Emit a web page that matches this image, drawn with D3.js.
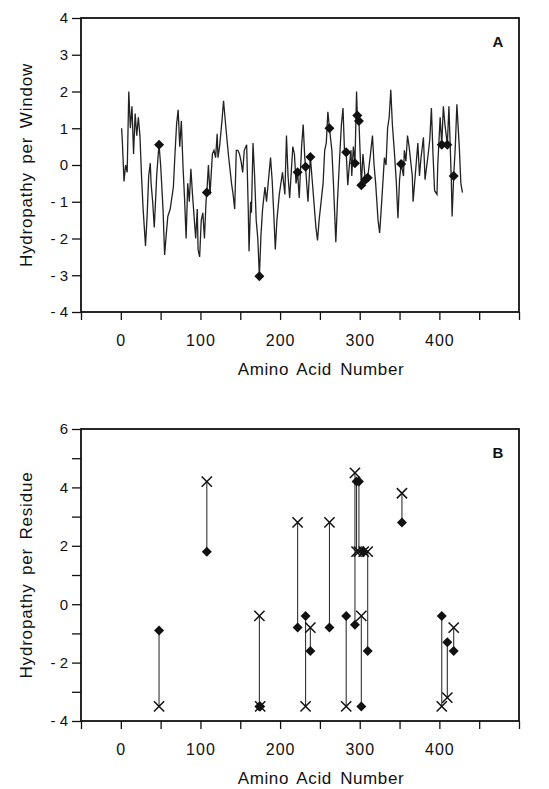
<!DOCTYPE html>
<html>
<head>
<meta charset="utf-8">
<script src="https://cdn.jsdelivr.net/npm/d3@7"></script>
<style>
  body { margin: 0; background: #fff; }
  svg { font-family: "Liberation Sans", Arial, Helvetica, sans-serif; }
</style>
</head>
<body>
<div id="app"></div>
<script>
// Panel A: hydropathy per window (residue number, window average)
const profileResidue = [1,2,4,6,8,10,12,14,16,18,20,22,24,26,28,31,33,35,37,38,40,42,44,45,47,48,50,53,55,57,59,62,66,68,70,72,74,76,78,80,82,84,86,88,90,94,96,97,99,101,103,105,107,108,110,112,115,117,119,121,122,124,127,129,132,135,137,139,141,143,145,147,149,151,153,155,158,160,161,163,164,166,168,170,172,174,176,178,181,183,185,188,190,192,194,196,199,201,203,206,208,210,212,214,216,218,220,222,224,227,229,231,232,235,238,241,245,247,249,252,254,256,258,260,262,265,267,270,272,275,277,279,281,283,285,287,289,290,292,294,296,297,299,302,304,307,310,313,316,318,320,323,325,327,329,331,333,335,337,339,341,344,346,348,350,352,355,356,358,360,362,366,367,370,373,375,377,380,382,386,388,390,392,394,397,398,401,403,405,407,410,412,415,416,418,420,422,425,427,429];
const profileValue = [1.0,0.6,-0.45,0.0,-0.2,2.0,1.0,1.6,0.3,1.4,0.8,1.3,0.8,-0.3,-1.2,-2.2,-1.4,-0.3,0.05,-0.5,-1.0,-1.7,-0.8,-0.3,0.3,0.55,0.0,-1.2,-2.45,-1.9,-1.4,-1.2,-0.6,0.3,1.1,1.5,0.5,1.2,0.0,-0.9,-2.0,-0.5,-1.0,-0.1,-0.8,-2.0,-1.2,-2.3,-2.5,-1.5,-1.3,-2.0,-1.0,-0.75,0.0,-0.8,0.3,0.4,0.2,0.85,0.2,0.5,1.2,1.75,1.0,0.3,-0.1,-0.5,-0.8,-1.2,0.4,0.4,0.3,0.1,-0.2,0.4,0.55,-1.2,-2.35,-1.0,-1.3,0.6,-0.3,-1.5,-2.0,-3.03,-1.9,-1.2,-0.6,-1.0,-0.5,0.2,-0.4,-1.3,-2.3,-1.5,-0.8,-0.5,-0.2,-0.8,0.8,-0.3,-0.9,-0.2,0.5,0.3,-0.5,-0.2,-0.9,0.5,1.1,0.2,-0.05,-1.0,0.22,-0.6,-1.7,-2.05,-1.5,-0.9,-0.5,0.4,0.6,1.45,1.0,0.4,-0.5,-2.1,-1.0,0.3,1.1,1.55,0.3,0.35,-0.55,0.0,0.4,-0.3,0.5,0.05,2.0,1.35,1.2,-0.55,0.3,-0.4,-0.35,0.2,0.8,0.0,-0.5,-1.5,-1.85,-1.2,-0.5,0.2,0.0,1.0,1.3,2.05,1.1,0.2,-0.5,-1.45,-0.4,0.03,-0.3,0.4,0.1,0.8,0.5,-0.3,-1.0,-0.2,0.6,-0.3,0.2,0.75,-0.4,0.3,0.7,1.55,0.3,-0.7,-0.8,0.0,1.3,0.55,1.6,1.1,0.55,1.6,-0.4,-1.4,-0.3,0.5,1.65,0.5,-0.5,-0.75];

// Panel A: marked residues on the profile
const markResidue = [48,108,174,222,232,238,262,283,294,297,299,302,307,310,352,403,410,418];
const markWindow = [0.55,-0.75,-3.03,-0.2,-0.05,0.22,1.0,0.35,0.05,1.35,1.2,-0.55,-0.4,-0.35,0.03,0.55,0.55,-0.3];

// Panel B: per-residue hydropathy, diamond (original) and cross (substituted)
const pairResidue = [48,108,174,175,222,232,238,262,283,294,296,299,302,305,310,353,403,410,418];
const pairDiamond = [-0.9,1.8,-3.5,-3.5,-0.8,-0.4,-1.6,-0.8,-0.4,-0.7,4.2,4.2,-3.5,1.8,-1.6,2.8,-0.4,-1.3,-1.6];
const pairCross = [-3.5,4.2,-0.4,-3.5,2.8,-3.5,-0.8,2.8,-3.5,4.5,1.8,1.8,-0.4,1.8,1.8,3.8,-3.5,-3.2,-0.8];

// Axis ticks
const xTicks = [-50,0,50,100,150,200,250,300,350,400,450,500];
const xTickLabels = [0,100,200,300,400];
const yTicksA = [-4,-3,-2,-1,0,1,2,3,4];
const yTicksB = [-4,-3,-2,-1,0,1,2,3,4,5,6];
const yTickLabelsB = [-4,-2,0,2,4,6];

const width = 549;
const height = 789;
const left = 81;
const right = 519;

const svg = d3.select("#app").append("svg")
  .attr("width", width)
  .attr("height", height);

const x = d3.scaleLinear().domain([-50, 500]).range([left, right]);
const yA = d3.scaleLinear().domain([-4, 4]).range([312, 18]);
const yB = d3.scaleLinear().domain([-4, 6]).range([721, 429]);

const fmt = d => d < 0 ? "- " + Math.abs(d) : String(d);

const diamond = d3.symbol(d3.symbolSquare, 50);
const cross = d3.symbol(d3.symbolTimes, 70);

function drawFrame(y, yTicks, yLabels, title, tag) {
  const top = y.range()[1];
  const bottom = y.range()[0];

  // x axis
  const gx = svg.append("g")
    .attr("transform", `translate(0, ${bottom})`)
    .call(d3.axisBottom(x).tickValues(xTicks).tickSize(8).tickPadding(15)
      .tickFormat(d => xTickLabels.includes(d) ? d : ""));
  gx.select(".domain").remove();
  gx.selectAll("line").attr("stroke", "#111").attr("stroke-width", 1.3);
  gx.selectAll("text").attr("font-size", 16).attr("letter-spacing", 1).attr("fill", "#111");

  // y axis
  const gy = svg.append("g")
    .attr("transform", `translate(${left}, 0)`)
    .call(d3.axisLeft(y).tickValues(yTicks).tickSize(9).tickPadding(4)
      .tickFormat(d => yLabels.includes(d) ? fmt(d) : ""));
  gy.select(".domain").remove();
  gy.selectAll("line").attr("stroke", "#111").attr("stroke-width", 1.3);
  gy.selectAll("text").attr("font-size", 15).attr("fill", "#111");

  // box
  svg.append("rect")
    .attr("x", left).attr("y", top)
    .attr("width", right - left).attr("height", bottom - top)
    .attr("fill", "none").attr("stroke", "#111").attr("stroke-width", 1.8);

  // axis titles
  svg.append("text")
    .attr("x", (left + right) / 2 + 21)
    .attr("y", bottom + 63)
    .attr("text-anchor", "middle")
    .attr("font-size", 17)
    .attr("letter-spacing", 0.6)
    .attr("word-spacing", 3)
    .attr("fill", "#111")
    .text("Amino Acid Number");

  svg.append("text")
    .attr("transform", `translate(32, ${(top + bottom) / 2}) rotate(-90)`)
    .attr("text-anchor", "middle")
    .attr("font-size", 17)
    .attr("letter-spacing", 0.8)
    .attr("word-spacing", 3)
    .attr("fill", "#111")
    .text(title);

  svg.append("text")
    .attr("x", 498)
    .attr("y", top + 29)
    .attr("text-anchor", "middle")
    .attr("font-size", 15)
    .attr("font-weight", "bold")
    .attr("fill", "#111")
    .text(tag);
}

drawFrame(yA, yTicksA, yTicksA, "Hydropathy per Window", "A");
drawFrame(yB, yTicksB, yTickLabelsB, "Hydropathy per Residue", "B");

// Panel A profile
const profile = profileResidue.map((r, i) => [r, profileValue[i]]);
svg.append("path")
  .datum(profile)
  .attr("fill", "none")
  .attr("stroke", "#222")
  .attr("stroke-width", 1.3)
  .attr("stroke-linejoin", "miter")
  .attr("d", d3.line().x(d => x(d[0])).y(d => yA(d[1])));

svg.selectAll(".markA")
  .data(markResidue)
  .enter()
  .append("path")
  .attr("class", "markA")
  .attr("d", diamond)
  .attr("fill", "#111")
  .attr("transform", (d, i) => `translate(${x(d)}, ${yA(markWindow[i])}) rotate(45)`);

// Panel B pairs
svg.selectAll(".stem")
  .data(pairResidue)
  .enter()
  .append("line")
  .attr("class", "stem")
  .attr("x1", d => x(d))
  .attr("x2", d => x(d))
  .attr("y1", (d, i) => yB(pairDiamond[i]))
  .attr("y2", (d, i) => yB(pairCross[i]))
  .attr("stroke", "#333")
  .attr("stroke-width", 1.1);

svg.selectAll(".crossB")
  .data(pairResidue)
  .enter()
  .append("path")
  .attr("class", "crossB")
  .attr("d", cross)
  .attr("fill", "none")
  .attr("stroke", "#111")
  .attr("stroke-width", 1.5)
  .attr("transform", (d, i) => `translate(${x(d)}, ${yB(pairCross[i])})`);

svg.selectAll(".diamondB")
  .data(pairResidue)
  .enter()
  .append("path")
  .attr("class", "diamondB")
  .attr("d", diamond)
  .attr("fill", "#111")
  .attr("transform", (d, i) => `translate(${x(d)}, ${yB(pairDiamond[i])}) rotate(45)`);
</script>
</body>
</html>
